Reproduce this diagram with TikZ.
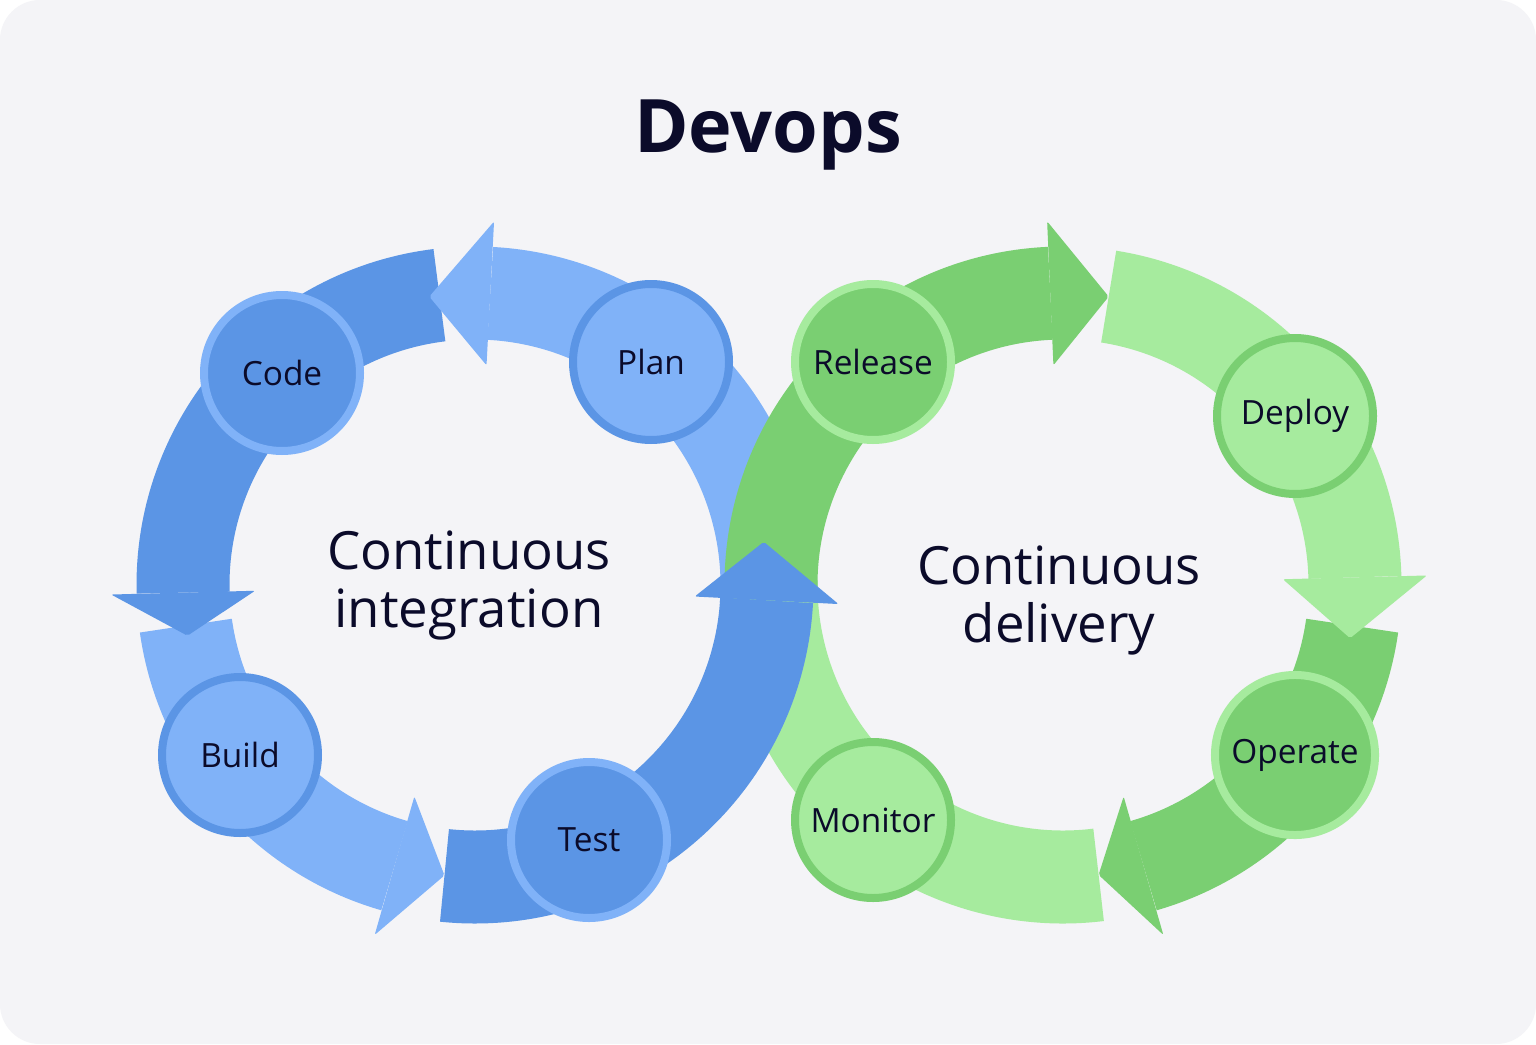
\documentclass[tikz,border=0pt]{standalone}
\usepackage{fontspec}
\setmainfont{Open Sans}
\usepackage{tikz}
\usetikzlibrary{calc}
\definecolor{bluedark}{HTML}{5B95E5}
\definecolor{bluelight}{HTML}{80B2F8}
\definecolor{greendark}{HTML}{7ACF72}
\definecolor{greenlight}{HTML}{A6EB9E}
\definecolor{bgcol}{HTML}{F4F4F7}
\definecolor{ink}{HTML}{0B0B2A}
\tikzset{
  stage/.style={circle, minimum size=1.56cm, line width=0.08cm, text=ink,
    font=\fontsize{9.5}{11}\selectfont},
  ring/.style={line width=0.93cm},
  centertext/.style={align=center, text=ink, font=\fontsize{15}{16.5}\selectfont}
}
% arc of a ring: center, start angle, end angle, colour
\newcommand{\ringarc}[4]{\draw[ring, #4] ($(#1)+(#2:2.92)$) arc[start angle=#2, end angle=#3, radius=2.92];}
% arrow head: center, base angle, tip angle, colour
\newcommand{\ringhead}[4]{\fill[#4, rounded corners=0.02cm] ($(#1)+(#2:2.2)$) -- ($(#1)+(#2:3.64)$) -- ($(#1)+(#3:2.92)$) -- cycle;}
\begin{document}
\begin{tikzpicture}
    \fill[white] (0,0) rectangle (15.36,10.44);
    \fill[bgcol, rounded corners=0.4cm] (0,0) rectangle (15.36,10.44);
    \coordinate (ci) at (4.75,4.59);
    \coordinate (cd) at (10.63,4.59);

    \node[text=ink, font=\fontsize{21}{24}\selectfont\bfseries] (title) at (7.68,9.09) {Devops};

    % Left ring, light parts
    \ringarc{ci}{-4}{87}{bluelight}
    \ringarc{ci}{188}{254}{bluelight}

    % Right ring
    \ringarc{cd}{-83}{-181}{greenlight}
    \ringarc{cd}{81}{1.5}{greenlight}
    \ringarc{cd}{181}{92.5}{greendark}
    \ringarc{cd}{-8}{-74}{greendark}
    \ringhead{cd}{92.5}{81}{greendark}
    \ringhead{cd}{1.5}{-10.5}{greenlight}
    \ringhead{cd}{-74}{-83}{greendark}

    % Left ring, dark parts and heads
    \ringarc{ci}{97}{181.5}{bluedark}
    \ringarc{ci}{264}{357}{bluedark}
    \ringhead{ci}{87}{99}{bluelight}
    \ringhead{ci}{181.5}{190}{bluedark}
    \ringhead{ci}{254}{264}{bluelight}
    \ringhead{ci}{-3}{8.5}{bluedark}

    % Stages
    \node[stage, fill=bluedark, draw=bluelight] (code) at (2.82,6.71) {Code};
    \node[stage, fill=bluelight, draw=bluedark] (plan) at (6.51,6.82) {Plan};
    \node[stage, fill=bluelight, draw=bluedark] (build) at (2.40,2.89) {Build};
    \node[stage, fill=bluedark, draw=bluelight] (test) at (5.89,2.04) {Test};
    \node[stage, fill=greendark, draw=greenlight] (release) at (8.73,6.82) {Release};
    \node[stage, fill=greenlight, draw=greendark] (deploy) at (12.95,6.28) {Deploy};
    \node[stage, fill=greendark, draw=greenlight] (operate) at (12.95,2.89) {Operate};
    \node[stage, fill=greenlight, draw=greendark] (monitor) at (8.73,2.24) {Monitor};

    \node[centertext] (ci-text) at (4.69,4.59) {Continuous\\integration};
    \node[centertext] (cd-text) at (10.59,4.44) {Continuous\\delivery};
\end{tikzpicture}
\end{document}
